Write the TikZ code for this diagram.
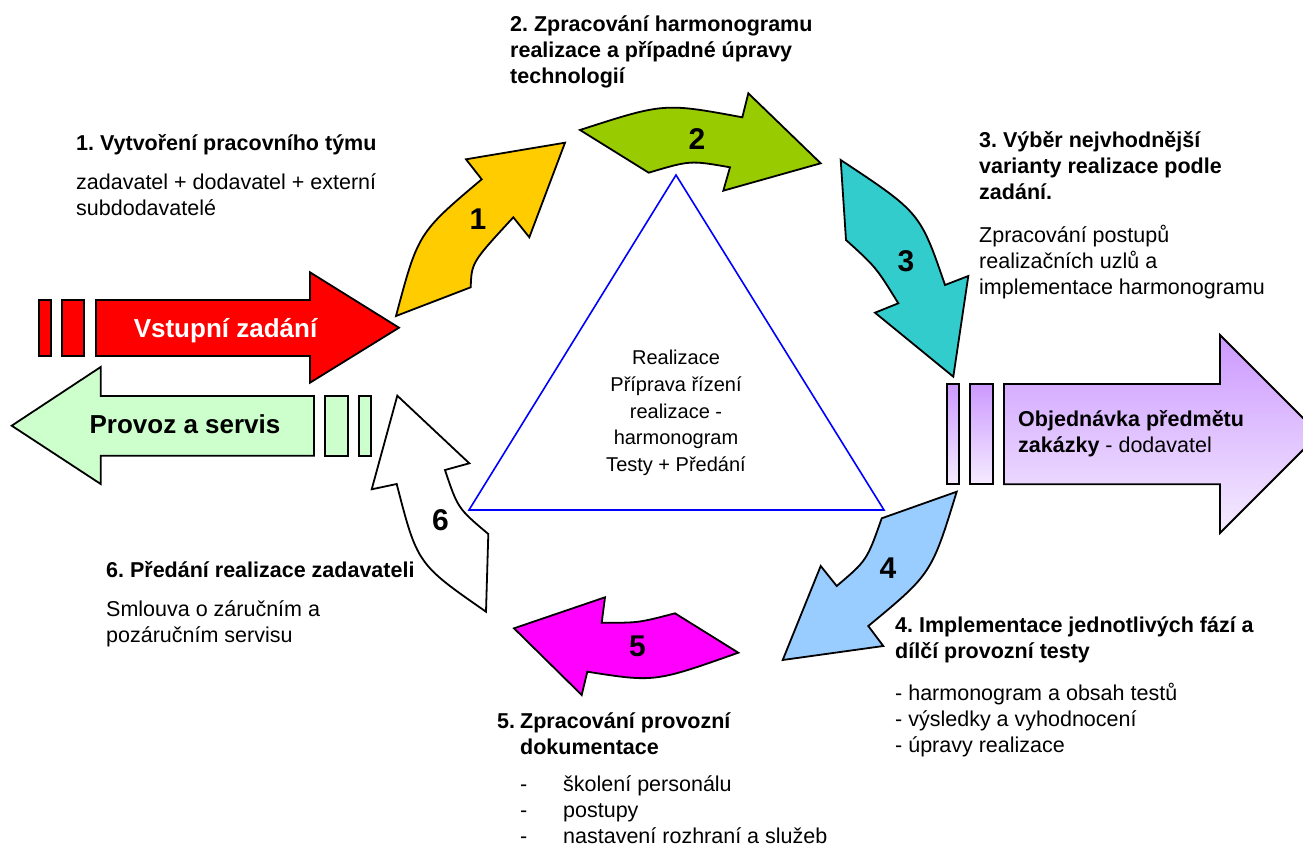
\documentclass[tikz,border=0pt]{standalone}
\usepackage{fontspec}
\setmainfont{Liberation Sans}
\usepackage{tikz}
\usetikzlibrary{positioning}
\usepackage{xcolor}
\frenchspacing
\definecolor{zdred}{RGB}{255,0,0}
\definecolor{zdyellow}{RGB}{255,204,0}
\definecolor{zdgreen}{RGB}{153,204,0}
\definecolor{zdteal}{RGB}{51,204,204}
\definecolor{zdblue}{RGB}{153,204,255}
\definecolor{zdmagenta}{RGB}{255,0,255}
\definecolor{zdmint}{RGB}{204,255,204}
\definecolor{zdviolet}{RGB}{204,153,255}
\definecolor{zdviolet4}{RGB}{245,236,255}
\definecolor{zdline}{RGB}{0,0,255}
\tikzstyle{blockarrow} = [draw=black, line width=1.8pt, line join=miter, miter limit=10]
\tikzstyle{steptitle} = [anchor=base west, align=left, inner sep=0pt, font=\fontsize{21.5}{26}\selectfont\bfseries]
\tikzstyle{steptext} = [anchor=base west, align=left, inner sep=0pt, font=\fontsize{21.5}{26}\selectfont]
\tikzstyle{stepnum} = [font=\fontsize{30}{30}\selectfont\bfseries]
\tikzstyle{bartext} = [anchor=base, inner sep=0pt, font=\fontsize{26}{26}\selectfont\bfseries]

\begin{document}
\begin{tikzpicture}[x=1pt, y=-1pt]
\clip (0,0) rectangle (1303,845);
\fill[white] (0,0) rectangle (1303,845);

% Triangle in the middle
\draw[zdline, line width=1.6pt] (676,175) -- (884,510) -- (469,510) -- cycle;
\node[align=center, inner sep=0pt, font=\fontsize{20}{26.75}\selectfont] (core) at (676,413)
  {Realizace\\Příprava řízení\\realizace -\\harmonogram\\Testy + Předání};

% Input arrow
\draw[blockarrow, fill=zdred] (39,300) rectangle (50.7,356);
\draw[blockarrow, fill=zdred] (61.7,300) rectangle (84.3,356);
\draw[blockarrow, fill=zdred] (96,300) -- (310,300) -- (310,272.3) -- (399,327.7) -- (310,382.7) -- (310,356) -- (96,356) -- cycle;
\node[bartext, white] (input) at (225.5,337) {Vstupní zadání};

% Output arrow
\draw[blockarrow, fill=zdmint] (325.3,396) rectangle (348.3,456);
\draw[blockarrow, fill=zdmint] (359.3,396) rectangle (370.7,456);
\draw[blockarrow, fill=zdmint] (314,396) -- (100.7,396) -- (100.7,367) -- (11.7,425.7) -- (100.7,484) -- (100.7,455.7) -- (314,455.7) -- cycle;
\node[bartext] (output) at (185,433) {Provoz a servis};

% Order arrow
\draw[blockarrow, top color=zdviolet, bottom color=zdviolet4] (947.3,384) rectangle (958.7,484.3);
\draw[blockarrow, top color=zdviolet, bottom color=zdviolet4] (970,384) rectangle (992.7,484.3);
\draw[blockarrow, top color=zdviolet, bottom color=zdviolet4] (1004,384) -- (1220,384) -- (1220,335) -- (1319,434) -- (1220,533) -- (1220,484.3) -- (1004,484.3) -- cycle;
\node[steptext] (order) at (1018,452) {\textbf{Objednávka předmětu}\\\textbf{zakázky} - dodavatel};

% Curved arrows 1-6
\draw[blockarrow, fill=zdyellow] (396,316) -- (470.7,287.3) .. controls (471.6,262.5) .. (513.3,217.3) -- (529.3,237.3) -- (565,142.7) -- (466,159.3) -- (481.7,179.3) .. controls (418.1,233) .. (396,316) -- cycle;
\node[stepnum] (n1) at (478,219) {1};
\draw[blockarrow, fill=zdgreen] (580,130) -- (648.7,172.7) .. controls (690.2,160.3) .. (730,167.3) -- (723.3,190.7) -- (820.7,163.3) -- (748.3,93.3) -- (742.3,117.3) .. controls (664,102.8) .. (580,130) -- cycle;
\node[stepnum] (n2) at (697,139) {2};
\draw[blockarrow, fill=zdteal] (840.7,160) .. controls (920.1,212.5) .. (945,285) -- (968.3,276) -- (953.3,376.7) -- (875,312.7) -- (898.3,303.3) .. controls (876,267.2) .. (846,240) -- cycle;
\node[stepnum] (n3) at (906,261) {3};
\draw[blockarrow, fill=zdblue] (881.7,518.3) -- (956.7,491.7) .. controls (931.5,573.7) .. (868.3,626) -- (883.3,646) -- (782.7,660) -- (820.7,566) -- (836.7,586) .. controls (866.9,560.4) .. (881.7,518.3) -- cycle;
\node[stepnum] (n4) at (888,568) {4};
\draw[blockarrow, fill=zdmagenta] (738.3,652.7) -- (675,613.3) .. controls (638.3,622.9) .. (601.7,622.7) -- (605,597.3) -- (514,628.3) -- (581.7,695) -- (587.3,671.7) .. controls (654.7,682.3) .. (738.3,652.7) -- cycle;
\node[stepnum] (n5) at (637.5,646) {5};
\draw[blockarrow, fill=white] (397.3,395.7) -- (469.3,463.3) -- (445,470) .. controls (457.8,508.3) .. (488.3,534) -- (486,611.7) .. controls (417.3,564) .. (396.7,484) -- (371.7,489.3) -- cycle;
\node[stepnum] (n6) at (440.5,520) {6};

% Step texts (anchored at the baseline of the last line)
\node[steptitle] (t1) at (76,151) {1. Vytvoření pracovního týmu};
\node[steptext] (d1) at (76,215) {zadavatel + dodavatel + externí\\subdodavatelé};
\node[steptitle] (t2) at (510,84) {2. Zpracování harmonogramu\\realizace a případné úpravy\\technologií};
\node[steptitle] (t3) at (979,200) {3. Výběr nejvhodnější\\varianty realizace podle\\zadání.};
\node[steptext] (d3) at (979,294) {Zpracování postupů\\realizačních uzlů a\\implementace harmonogramu};
\node[steptitle] (t4) at (895,658) {4. Implementace jednotlivých fází a\\dílčí provozní testy};
\node[steptext] (d4) at (895,752) {- harmonogram a obsah testů\\- výsledky a vyhodnocení\\- úpravy realizace};
\node[steptitle] (t5n) at (497,728) {5.};
\node[steptitle] (t5) at (520,754) {Zpracování provozní\\dokumentace};
\node[steptext] (d5) at (520,843) {\makebox[43pt][l]{-}školení personálu\\\makebox[43pt][l]{-}postupy\\\makebox[43pt][l]{-}nastavení rozhraní a služeb};
\node[steptitle] (t6) at (106,577) {6. Předání realizace zadavateli};
\node[steptext] (d6) at (106,642) {Smlouva o záručním a\\pozáručním servisu};
\end{tikzpicture}
\end{document}
